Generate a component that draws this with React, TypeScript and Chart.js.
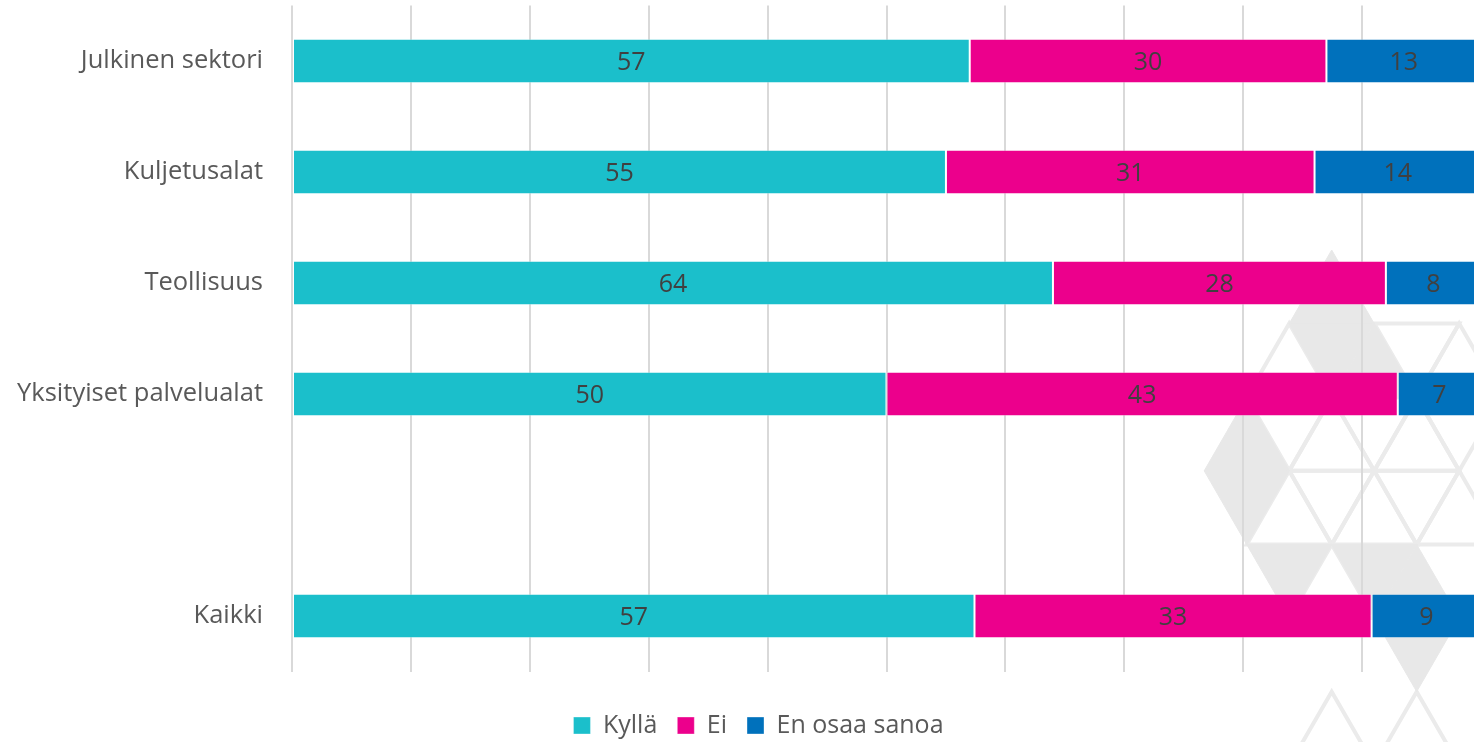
import React, { useEffect, useRef } from 'react';
import { Chart, registerables } from 'chart.js';

Chart.register(...registerables);

// ---- data ----
const categories = ['Julkinen sektori', 'Kuljetusalat', 'Teollisuus', 'Yksityiset palvelualat', '', 'Kaikki'];
const seriesNames = ['Kyllä', 'Ei', 'En osaa sanoa'];
const kylla = [57, 55, 64, 50, null, 57.4];
const ei = [30, 31, 28, 43, null, 33.4];
const enOsaaSanoa = [13, 14, 8, 7, null, 9.2];
const xMin = 0;
const xMax = 100;
const xStep = 10;

const seriesColors = ['#1BBFCB', '#EC008C', '#0071BC'];
const FONT = "'Open Sans', 'Noto Sans', sans-serif";

// decorative background lattice (not data)
const patternPlugin = {
  id: 'bgPattern',
  beforeDraw(chart: any) {
    const ctx = chart.ctx as CanvasRenderingContext2D;
    const S = 85;
    const H = (S * Math.sqrt(3)) / 2;
    const X0 = 1331.7;
    const Y0 = 250;
    const v = (r: number, c: number) => [X0 + (c * S) / 2, Y0 + r * H];
    const up = (r: number, c: number) => [v(r, c), v(r + 1, c - 1), v(r + 1, c + 1)];
    const down = (r: number, c: number) => [v(r, c - 1), v(r, c + 1), v(r + 1, c)];
    const filled = [up(0, 0), down(1, 0), up(1, 1), up(2, -2), down(3, -2), down(4, -1), down(4, 1), up(4, 2), down(5, 2)];
    const outlined = [
      up(1, -1), down(1, 2), up(1, 3), down(2, -1), up(2, 0), down(2, 1), up(2, 2), down(2, 3),
      up(3, -1), down(3, 0), up(3, 1), down(3, 2), up(3, 3), up(4, 0), up(6, 0), up(6, 2),
    ];
    const path = (t: number[][]) => {
      ctx.beginPath();
      ctx.moveTo(t[0][0], t[0][1]);
      ctx.lineTo(t[1][0], t[1][1]);
      ctx.lineTo(t[2][0], t[2][1]);
      ctx.closePath();
    };
    ctx.save();
    ctx.lineWidth = 4;
    ctx.lineJoin = 'miter';
    ctx.strokeStyle = '#ebebeb';
    outlined.forEach((t) => {
      path(t);
      ctx.stroke();
    });
    ctx.fillStyle = '#e8e8e8';
    ctx.strokeStyle = '#e8e8e8';
    ctx.lineWidth = 1;
    filled.forEach((t) => {
      path(t);
      ctx.fill();
      ctx.stroke();
    });
    ctx.restore();
  },
};

// shift the bottom legend so that it is centred like in the reference
const legendShift = {
  id: 'legendShift',
  afterLayout(chart: any) {
    const lg = chart.legend;
    if (lg) {
      lg.left += 18;
      lg.right += 18;
    }
  },
};

const valueLabels = {
  id: 'valueLabels',
  afterDatasetsDraw(chart: any) {
    const ctx = chart.ctx as CanvasRenderingContext2D;
    ctx.save();
    ctx.font = `25px ${FONT}`;
    ctx.fillStyle = '#404040';
    ctx.textAlign = 'center';
    ctx.textBaseline = 'middle';
    chart.data.datasets.forEach((ds: any, i: number) => {
      const meta = chart.getDatasetMeta(i);
      meta.data.forEach((el: any, j: number) => {
        const val = ds.data[j];
        if (val == null) return;
        const p = el.getCenterPoint();
        ctx.fillText(String(Math.round(val)), p.x, p.y + 2);
      });
    });
    ctx.restore();
  },
};

export default function App() {
  const ref = useRef<HTMLCanvasElement | null>(null);

  useEffect(() => {
    if (!ref.current) return;
    Chart.defaults.font.family = FONT;
    const values = [kylla, ei, enOsaaSanoa];
    const chart = new Chart(ref.current, {
      type: 'bar',
      data: {
        labels: categories,
        datasets: seriesNames.map((name, i) => ({
          label: name,
          data: values[i],
          backgroundColor: seriesColors[i],
          borderColor: 'rgba(255,255,255,0.35)',
          borderWidth: 1,
          borderSkipped: false,
          barPercentage: 0.4,
          categoryPercentage: 1,
        })),
      },
      options: {
        indexAxis: 'y',
        responsive: false,
        animation: false,
        layout: { padding: { left: 0, right: 19, top: 5.5, bottom: 0 } },
        scales: {
          x: {
            stacked: true,
            min: xMin,
            max: xMax,
            ticks: { display: false, stepSize: xStep },
            grid: { color: '#d9d9d9', lineWidth: 2, drawTicks: false },
            border: { display: false },
            afterFit: (s: any) => {
              s.height = 21.5;
              s.paddingLeft = 0;
              s.paddingRight = 0;
            },
          },
          y: {
            stacked: true,
            grid: { display: false, drawTicks: false },
            border: { display: false },
            ticks: { padding: 29, color: '#595959', font: { size: 25.5, family: FONT } },
            afterFit: (s: any) => {
              s.width = 292;
              s.paddingTop = 0;
              s.paddingBottom = 0;
            },
          },
        },
        plugins: {
          legend: {
            position: 'bottom',
            labels: {
              boxWidth: 17,
              boxHeight: 17,
              padding: 20,
              color: '#595959',
              font: { size: 25, family: FONT },
            },
          },
          tooltip: { enabled: false },
        },
      },
      plugins: [patternPlugin, legendShift, valueLabels],
    } as any);
    return () => chart.destroy();
  }, []);

  return (
    <div
      style={{
        position: 'fixed',
        left: 0,
        top: 0,
        width: 1474,
        height: 742,
        overflow: 'hidden',
        background: '#ffffff',
      }}
    >
      <canvas ref={ref} width={1500} height={748} style={{ width: '1500px', height: '748px', display: 'block' }} />
    </div>
  );
}
